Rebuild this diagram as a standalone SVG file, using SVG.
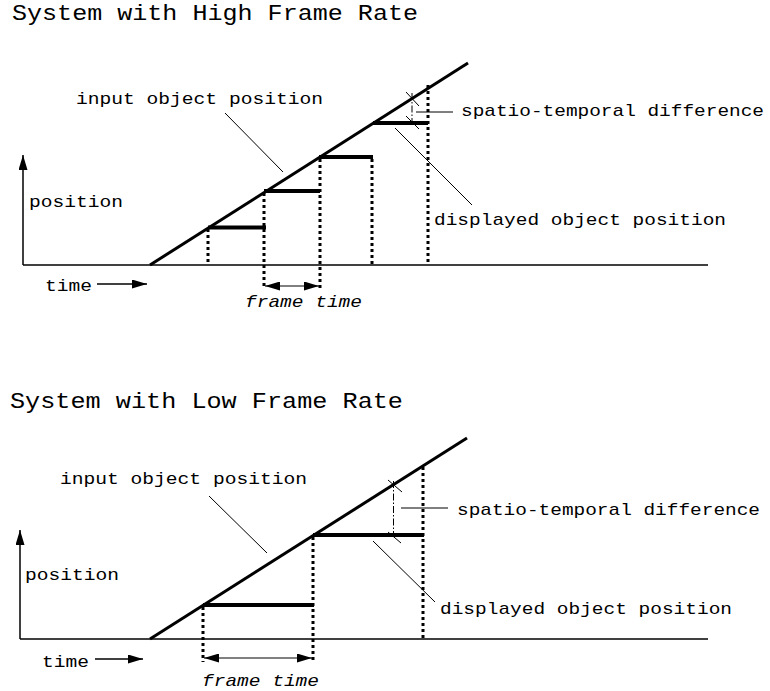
<svg xmlns="http://www.w3.org/2000/svg" width="770" height="691" viewBox="0 0 770 691">
<style>
text{font-family:"Liberation Mono","DejaVu Sans Mono",monospace;fill:#000}
.title{font-size:22px}
.lbl{font-size:17px}
.it{font-style:italic}
.axis{stroke:#000;stroke-width:1.5;fill:none}
.ramp{stroke:#000;stroke-width:3;fill:none}
.seg{stroke:#000;stroke-width:4;fill:none}
.dot{stroke:#000;stroke-width:3;stroke-dasharray:3,3;fill:none}
.lead{stroke:#000;stroke-width:1;fill:none}
.dd{stroke:#000;stroke-width:1;stroke-dasharray:7,2,1.5,2;fill:none}
</style>
<defs>
<marker id="ah" markerUnits="userSpaceOnUse" markerWidth="15" markerHeight="9" refX="15" refY="4.5" orient="auto-start-reverse" viewBox="0 0 15 9">
<path d="M0,0 L15,4.5 L0,9 z" fill="#000"/>
</marker>
</defs>

<g id="top">
<text class="title" x="12" y="20" textLength="406" lengthAdjust="spacingAndGlyphs">System with High Frame Rate</text>
<g id="top-axes">
<line class="axis" x1="23" y1="265" x2="23" y2="155" marker-end="url(#ah)"/>
<line class="axis" x1="23" y1="265" x2="708" y2="265"/>
<line class="axis" x1="97" y1="284" x2="147" y2="284" marker-end="url(#ah)"/>
<text class="lbl" x="29" y="207" textLength="94" lengthAdjust="spacingAndGlyphs">position</text>
<text class="lbl" x="45" y="291" textLength="47" lengthAdjust="spacingAndGlyphs">time</text>
</g>
<g id="top-input">
<line class="ramp" x1="150" y1="265" x2="468" y2="63"/>
</g>
<g id="top-display">
<line class="seg" x1="208" y1="227.5" x2="266" y2="227.5"/>
<line class="seg" x1="264" y1="191" x2="320" y2="191"/>
<line class="seg" x1="319" y1="157" x2="373" y2="157"/>
<line class="seg" x1="373" y1="123" x2="428" y2="123"/>
</g>
<g id="top-frames">
<line class="dot" x1="208" y1="229" x2="208" y2="265"/>
<line class="dot" x1="264" y1="193" x2="264" y2="288"/>
<line class="dot" x1="320" y1="159" x2="320" y2="288"/>
<line class="dot" x1="372" y1="159" x2="372" y2="265"/>
<line class="dot" x1="428" y1="85" x2="428" y2="265"/>
<line class="lead" x1="265" y1="286" x2="319" y2="286" marker-start="url(#ah)" marker-end="url(#ah)"/>
<text class="lbl it" x="245" y="307" textLength="117" lengthAdjust="spacingAndGlyphs">frame time</text>
</g>
<g id="top-labels">
<text class="lbl" x="76" y="104" textLength="247" lengthAdjust="spacingAndGlyphs">input object position</text>
<line class="lead" x1="225" y1="113" x2="283" y2="172"/>
<line class="dd" x1="412" y1="93" x2="412" y2="123"/>
<line class="lead" x1="406" y1="92" x2="419" y2="106"/>
<line class="lead" x1="406" y1="116" x2="419" y2="129"/>
<line class="lead" x1="416" y1="112" x2="453" y2="112"/>
<text class="lbl" x="461" y="116" textLength="303" lengthAdjust="spacingAndGlyphs">spatio-temporal difference</text>
<line class="lead" x1="395" y1="128" x2="472" y2="205"/>
<text class="lbl" x="434" y="225" textLength="292" lengthAdjust="spacingAndGlyphs">displayed object position</text>
</g>
</g>

<g id="bottom">
<text class="title" x="10" y="408" textLength="393" lengthAdjust="spacingAndGlyphs">System with Low Frame Rate</text>
<g id="bottom-axes">
<line class="axis" x1="20" y1="639" x2="20" y2="530" marker-end="url(#ah)"/>
<line class="axis" x1="20" y1="639" x2="708" y2="639"/>
<line class="axis" x1="95" y1="659" x2="143" y2="659" marker-end="url(#ah)"/>
<text class="lbl" x="25" y="580" textLength="94" lengthAdjust="spacingAndGlyphs">position</text>
<text class="lbl" x="42" y="667" textLength="47" lengthAdjust="spacingAndGlyphs">time</text>
</g>
<g id="bottom-input">
<line class="ramp" x1="150" y1="639" x2="467" y2="438"/>
</g>
<g id="bottom-display">
<line class="seg" x1="203" y1="605" x2="314" y2="605"/>
<line class="seg" x1="313" y1="535" x2="424" y2="535"/>
</g>
<g id="bottom-frames">
<line class="dot" x1="203" y1="607" x2="203" y2="662"/>
<line class="dot" x1="313" y1="537" x2="313" y2="662"/>
<line class="dot" x1="423" y1="467" x2="423" y2="639"/>
<line class="lead" x1="204" y1="658" x2="312" y2="658" marker-start="url(#ah)" marker-end="url(#ah)"/>
<text class="lbl it" x="202" y="686" textLength="117" lengthAdjust="spacingAndGlyphs">frame time</text>
</g>
<g id="bottom-labels">
<text class="lbl" x="60" y="484" textLength="247" lengthAdjust="spacingAndGlyphs">input object position</text>
<line class="lead" x1="209" y1="496" x2="267" y2="553"/>
<line class="dd" x1="393.5" y1="481" x2="393.5" y2="535"/>
<line class="lead" x1="388" y1="480" x2="402" y2="492"/>
<line class="lead" x1="388" y1="532" x2="401" y2="543"/>
<line class="lead" x1="401" y1="508" x2="448" y2="508"/>
<text class="lbl" x="457" y="515" textLength="303" lengthAdjust="spacingAndGlyphs">spatio-temporal difference</text>
<line class="lead" x1="373" y1="541" x2="435" y2="602"/>
<text class="lbl" x="440" y="614" textLength="292" lengthAdjust="spacingAndGlyphs">displayed object position</text>
</g>
</g>
</svg>
